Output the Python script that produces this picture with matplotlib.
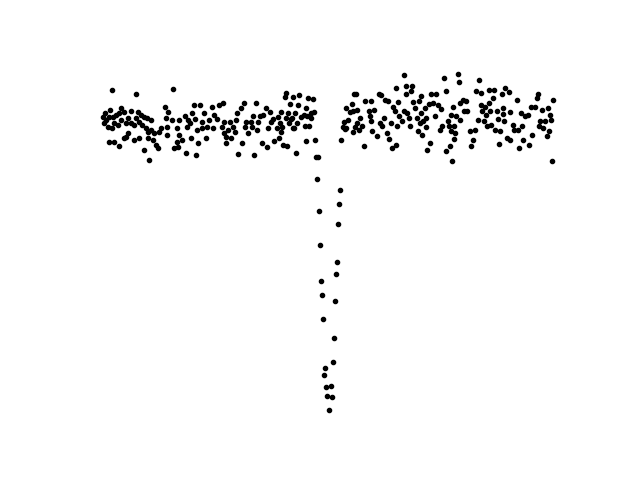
import numpy as np
import matplotlib
matplotlib.use('Agg')
import matplotlib.pyplot as plt

# time from mid-transit (minutes) and flux deviation (ppt)
t_pre = [-448, -445, -444, -441, -438, -435, -435, -433, -430, -430, -428, -425, -425,
         -421, -418, -415, -415, -412, -411, -406, -405, -401, -401, -398, -398, -391,
         -391, -385, -385, -382, -381, -378, -375, -375, -371, -370, -365, -365, -361,
         -360, -358, -357, -356, -351, -351, -348, -345, -341, -338, -335, -331,
         -324, -322, -320, -319, -317, -310, -308, -306, -301, -300, -299, -297, -296,
         -290, -285, -283, -280, -278, -274, -272, -270, -267, -264, -262, -261, -259,
         -255, -251, -250, -247, -243, -240, -237, -231, -229, -227, -220, -217, -210,
         -208, -207, -206, -203,
         -202, -199, -195, -192, -189, -185, -182, -180, -178, -173, -171, -166, -164,
         -162, -159, -153, -151, -150, -148, -143, -141, -139, -135, -132, -129, -123,
         -121, -119, -116, -114, -110, -108, -102, -100, -98, -96, -94, -93, -91, -89,
         -86, -84, -83, -81, -80, -78, -76, -74,
         -72, -70, -69, -67, -65, -63, -61, -59, -57, -54, -48, -46, -44, -43, -42,
         -39, -37, -34, -33, -29, -27, -26]
f_pre = [0.3, -0.3, 0.7, 0.0, -0.7, 0.3, -2.2, 1.0, 3.0, -0.8, 0.3, -0.3, -2.2,
         0.5, -0.5, 0.7, -2.6, 0.0, 1.2, 0.8, -1.8, -0.3, -1.7, -1.3, 0.2, 0.9,
         -0.3, -0.5, -2.0, 0.2, 2.6, 0.8, -0.2, -1.8, 0.5, -0.5, 0.3, -3.0, -0.8,
         0.2, -1.2, -1.8, -4.0, 0.0, -1.0, -2.0, -1.3, -2.5, -2.8, -1.2, -0.8,
         1.3, 0.2, -0.7, -1.5, 0.8, 0.0, 3.1, -2.8, -0.8, -2.2, -2.7, 0.0, -1.5,
         -2.0, 0.4, -3.3, -0.7, 0.0, -0.3, -1.8, 0.7, 1.5, 0.1, -3.5, -1.0, -2.3,
         1.5, -0.2, -0.8, 0.7, -1.8, -0.7, 0.0, 1.3, -0.8, 0.5, 0.1, 1.5, -0.7,
         1.7, -0.2, -1.3, -2.3,
         -1.7, -1.0, -0.2, -1.8, -0.7, -1.2, 0.0, 0.7, -3.4, 1.2, -2.3, 1.7, -0.7,
         -0.2, -1.3, -0.2, -0.7, 0.4, -3.5, 1.7, -1.0, -0.2, 0.4, -2.3, 0.5, 1.2,
         -2.7, -0.8, 0.8, -0.2, 0.1, -2.1, -0.8, 0.3, -1.8, -0.3, -1.2, 0.8, -0.7, -2.5,
         2.3, 0.2, 2.7, -2.6, 0.7, -0.3, 1.6, 0.1,
         0.2, -0.8, 2.3, -0.8, 0.7, -3.3, -0.3, 1.5, 2.5, 0.3, 0.5, -0.6, 1.2, -2.1, 0.4,
         2.2, -0.6, 0.7, 0.2, 2.1, 0.8, -2.0]

t_in = [-24, -22, -19, -17, -15, -13, -11, -9, -7, -5, -3, -1, 1, 5, 7, 9, 11, 13,
        15, 17, 19, 21, 23]
f_in = [-3.7, -5.9, -3.7, -9.1, -12.5, -16.1, -17.5, -19.9, -25.5, -24.8, -26.7,
        -27.6, -29.0, -26.6, -27.7, -24.2, -21.8, -18.1, -15.4, -14.2, -10.4, -8.4, -7.0]

t_post = [26, 29, 31, 33, 35, 36, 39, 43, 48, 49, 50, 52, 53,
          56, 57, 58, 61, 64, 67, 71, 74, 81, 83, 85, 86, 88, 91, 97, 101, 104, 106,
          108, 111, 114, 117, 120, 122, 126, 128, 129, 133, 135, 136, 138, 140, 142,
          147, 151, 152, 154, 155, 157, 160, 162, 164, 166, 168, 173, 176, 178, 180, 182,
          184, 185, 186, 189, 192, 194, 195, 196, 201, 203, 205, 209, 212, 214, 219,
          222, 224, 226, 230, 234, 235, 238, 240, 242, 244, 245, 246, 248, 250, 251,
          253, 255, 259, 261, 262, 263, 268, 270, 274, 276, 282, 285, 289, 292, 295,
          299, 301, 304, 305, 306, 309, 311, 313, 315,
          319, 320, 322, 323, 328, 330, 332, 335, 337, 339, 341, 345, 347, 348, 349,
          351, 355, 360, 361, 362, 367, 369, 375, 377, 379, 384, 386, 388, 391, 397,
          399, 404, 406, 411, 415, 417, 419, 421, 425, 428, 431, 435, 437, 439, 441,
          444, 446, 448]
f_post = [-2.0, -0.7, -0.2, -0.9, 1.2, -0.8, 0.0, 0.8, 1.6, 0.9, -1.2, 2.6, -0.7,
          2.6, 1.0, -0.3, -1.0, 0.2, -0.6, -2.6, 1.9, 0.9, 0.4, -0.1, 1.9, -1.1, 1.0,
          -1.6, 2.6, -0.3, 2.5, -0.6, 0.2, 2.0, -1.3, 1.9, -1.9, -0.3, -2.8, 1.3, 0.9,
          -2.5, 3.2, -0.6, 1.8, 0.4, -0.1, 0.9, 4.5, 3.4, 2.6, 0.7, 0.2, -0.6, 2.9,
          3.4, 1.8, 1.2, 0.2, -1.1, 1.9, -0.3,
          2.4, 0.7, -1.5, -0.1, 1.2, 0.2, -0.7, -3.0, 1.6, -2.3, 2.6, 1.7, 0.4, 2.6,
          1.5, -1.0, 1.1, -0.6, 4.2, 2.9, -3.1, -0.1, -0.6, -2.6, 0.5, -1.1, -4.1, 1.3,
          -1.9, -0.6, -1.3, 0.4, 4.6, 3.8, 1.7, 0.0, 2.0, 0.9, 1.9, 0.9, -1.1, -2.6,
          -2.0, -1.0, 2.9, 0.0, 4.0, 2.7, 1.5, 0.9, -0.1, 1.3, 0.5, -0.6,
          3.0, 1.7, 0.9, -0.5, 2.2, 3.0, -1.0, 0.9, 0.1, -2.4, -1.1, 2.6, 1.2, 0.6, -0.1,
          3.2, -1.8, 2.8, 0.8, -2.0, -0.5, -1.0, 2.0, -1.0, -2.8, 0.7, -0.6, -2.0, 0.4,
          0.5, -2.5, 1.3, -1.5, 1.3, 2.2, 2.6, -0.6, -0.1, 1.0, -0.8, -0.1, -1.6, 1.2,
          -1.1, 0.5, 0.0, -4.1, 2.0]

time = np.array(t_pre + t_in + t_post) / 60.0
flux = 1.0 + np.array(f_pre + f_in + f_post) / 1000.0

fig, ax = plt.subplots(figsize=(6.4, 4.8), dpi=100)
ax.plot(time, flux, 'k.')
ax.axis('off')
fig.savefig('out.png')
